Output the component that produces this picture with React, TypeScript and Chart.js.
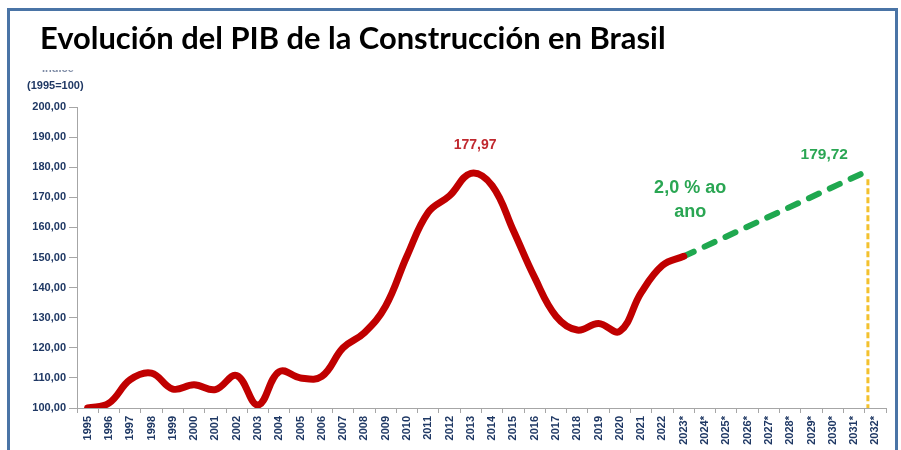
import React, { useEffect, useRef } from 'react';
import { Chart, registerables } from 'chart.js';

Chart.register(...registerables);

// ---------- data ----------
const yearLabels = [
  '1995', '1996', '1997', '1998', '1999', '2000', '2001', '2002', '2003', '2004',
  '2005', '2006', '2007', '2008', '2009', '2010', '2011', '2012', '2013', '2014',
  '2015', '2016', '2017', '2018', '2019', '2020', '2021', '2022', '2023*', '2024*',
  '2025*', '2026*', '2027*', '2028*', '2029*', '2030*', '2031*', '2032*',
];

const histYears = [
  1995, 1996, 1997, 1998, 1999, 2000, 2001, 2002, 2003, 2004,
  2005, 2006, 2007, 2008, 2009, 2010, 2011, 2012, 2013, 2014,
  2015, 2016, 2017, 2018, 2019, 2020, 2021, 2022, 2023,
];
const histValues = [
  100.0, 101.6, 109.4, 111.6, 106.3, 107.7, 106.1, 110.8, 101.0, 112.1,
  110.0, 110.5, 120.0, 125.0, 133.9, 150.5, 165.0, 170.5, 177.97, 173.9,
  158.9, 143.3, 130.5, 125.9, 128.1, 125.5, 138.3, 147.4, 150.4,
];

const projYears = [2023, 2031.5];
const projValues = [150.4, 178.3];

const markerYears = [2031.65, 2031.65];
const markerValues = [176.0, 100.0];

const yMin = 100;
const yMax = 200;
const yStep = 10;

const peakLabel = '177,97';
const endLabel = '179,72';
const rateLabel = ['2,0 % ao', 'ano'];
const titleText = 'Evolución del PIB de la Construcción en Brasil';
const unitLabel = '(1995=100)';
const unitLabelTop = 'Índice';

// ---------- styles ----------
const RED = '#C00000';
const GREEN = '#1FA84F';
const GREEN_TEXT = '#2AA653';
const YELLOW = '#F3C12E';
const NAVY = '#1F3864';
const AXIS = '#A6A6A6';
const FONT = '"Liberation Sans", Arial, sans-serif';

const notes = [
  { text: peakLabel, x: 2013.2, y: 187.4, color: '#C0282E', size: 14 },
  { text: rateLabel[0], x: 2023.3, y: 173.2, color: GREEN_TEXT, size: 18 },
  { text: rateLabel[1], x: 2023.3, y: 165.2, color: GREEN_TEXT, size: 18 },
  { text: endLabel, x: 2029.6, y: 184.1, color: GREEN_TEXT, size: 15.5 },
];

const textPlugin = {
  id: 'textPlugin',
  afterDraw(chart: any) {
    const { ctx, scales } = chart;
    const xs = scales.xl;
    const ys = scales.y;
    ctx.save();
    ctx.textAlign = 'center';
    ctx.textBaseline = 'middle';
    for (const n of notes) {
      ctx.font = `bold ${n.size}px ${FONT}`;
      ctx.fillStyle = n.color;
      ctx.fillText(n.text, xs.getPixelForValue(n.x), ys.getPixelForValue(n.y));
    }
    ctx.restore();

    // unit label
    ctx.save();
    ctx.font = `bold 11px ${FONT}`;
    ctx.fillStyle = NAVY;
    ctx.textAlign = 'left';
    ctx.textBaseline = 'alphabetic';
    ctx.fillText(unitLabel, 27, 89);
    ctx.beginPath();
    ctx.rect(0, 70, 140, 2);
    ctx.clip();
    ctx.fillStyle = '#7F8CA6';
    ctx.fillText(unitLabelTop, 42, 72);
    ctx.restore();

    // title
    ctx.save();
    ctx.fillStyle = '#000';
    ctx.textAlign = 'left';
    ctx.textBaseline = 'alphabetic';
    ctx.font = `bold 100px Lato, "Open Sans", sans-serif`;
    const w = ctx.measureText(titleText).width;
    const size = (100 * 626) / w;
    ctx.font = `bold ${size}px Lato, "Open Sans", sans-serif`;
    ctx.fillText(titleText, 40, 49);
    ctx.restore();
  },
};

export default function App() {
  const ref = useRef<HTMLCanvasElement | null>(null);

  useEffect(() => {
    if (!ref.current) return;
    const chart = new Chart(ref.current, {
      type: 'line',
      data: {
        labels: yearLabels,
        datasets: [
          {
            data: histYears.map((x, i) => ({ x, y: histValues[i] })),
            xAxisID: 'xl',
            yAxisID: 'y',
            borderColor: RED,
            borderWidth: 7,
            tension: 0.4,
            pointRadius: 0,
            fill: false,
            borderCapStyle: 'round',
            borderJoinStyle: 'round',
          },
          {
            data: projYears.map((x, i) => ({ x, y: projValues[i] })),
            xAxisID: 'xl',
            yAxisID: 'y',
            borderColor: GREEN,
            borderWidth: 6,
            borderDash: [11, 12],
            borderCapStyle: 'round',
            pointRadius: 0,
            fill: false,
          },
          {
            data: markerYears.map((x, i) => ({ x, y: markerValues[i] })),
            xAxisID: 'xl',
            yAxisID: 'y',
            borderColor: YELLOW,
            borderWidth: 3,
            borderDash: [6, 3],
            pointRadius: 0,
            fill: false,
          },
        ] as any,
      },
      options: {
        animation: false,
        responsive: false,
        layout: { padding: { left: 0, top: 107, right: 15, bottom: 0 } },
        plugins: { legend: { display: false }, tooltip: { enabled: false }, title: { display: false } },
        scales: {
          x: {
            type: 'category',
            position: 'bottom',
            offset: true,
            grid: { offset: true, drawOnChartArea: false, tickLength: 5, color: AXIS },
            border: { color: AXIS },
            ticks: {
              minRotation: 90,
              maxRotation: 90,
              autoSkip: false,
              padding: 3,
              color: NAVY,
              font: { family: FONT, size: 11, weight: 'bold' },
            },
            afterFit: (s: any) => {
              s.height = 42;
            },
          },
          xl: {
            type: 'linear',
            axis: 'x',
            position: 'bottom',
            display: false,
            min: 1994.5,
            max: 2032.5,
          },
          y: {
            min: yMin,
            max: yMax,
            ticks: {
              stepSize: yStep,
              padding: 3,
              color: NAVY,
              font: { family: FONT, size: 11, weight: 'bold' },
              callback: (v: any) => Number(v).toFixed(2).replace('.', ','),
            },
            grid: { drawOnChartArea: false, tickLength: 8, color: AXIS },
            border: { color: AXIS },
            afterFit: (s: any) => {
              s.width = 77;
            },
          },
        } as any,
      },
      plugins: [textPlugin],
    });
    return () => chart.destroy();
  }, []);

  return (
    <div style={{ position: 'fixed', left: 0, top: 0, width: 901, height: 450, overflow: 'hidden', background: '#fff' }}>
      <canvas ref={ref} width={901} height={450} style={{ position: 'absolute', left: 0, top: 0 }} />
      <div
        style={{
          position: 'absolute',
          left: 7,
          top: 8,
          width: 885,
          height: 470,
          border: '3px solid #4A74A6',
          pointerEvents: 'none',
        }}
      />
    </div>
  );
}
